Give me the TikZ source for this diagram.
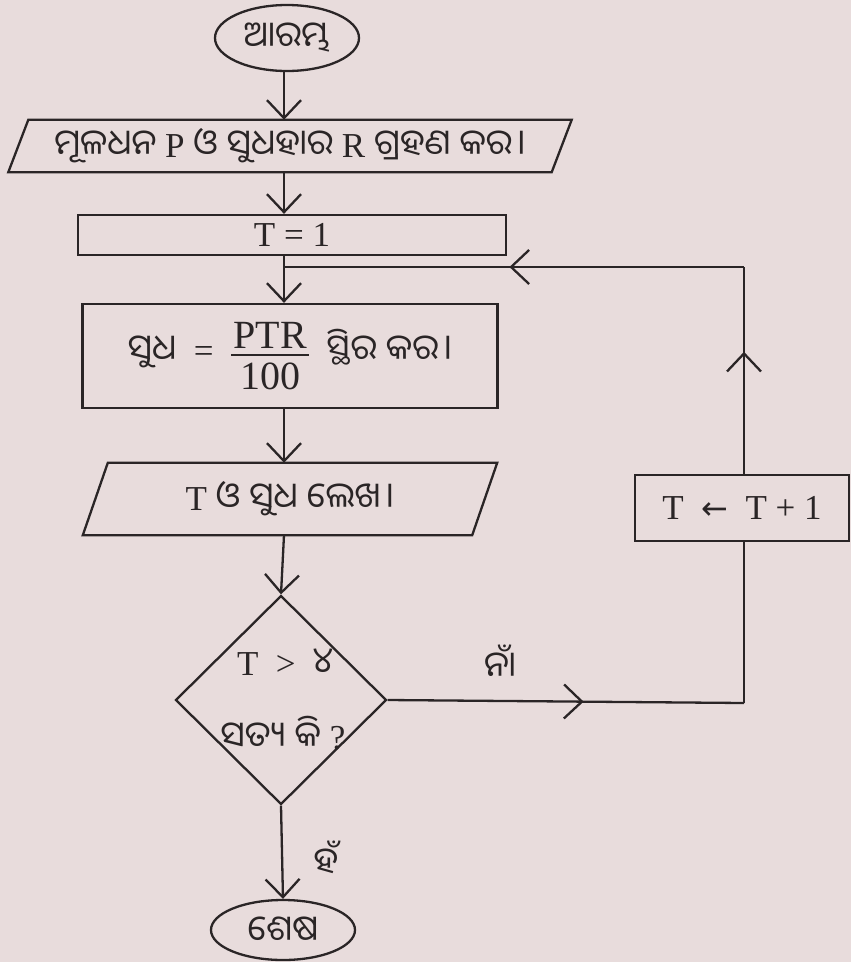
\documentclass[tikz,border=0pt]{standalone}
\usepackage{fontspec}
\setmainfont{Liberation Serif}
\newfontfamily\od[Script=Oriya]{Noto Sans Oriya UI}
\newfontfamily\dv{DejaVu Sans}
\usetikzlibrary{arrows.meta,shapes.geometric,decorations.markings}
\definecolor{bg}{HTML}{E8DCDC}
\definecolor{ink}{HTML}{2A2526}
\newcommand\myfrac[2]{$\vcenter{\fontsize{40}{44}\selectfont\hbox to 78pt{\hfil #1\hfil}\kern5pt\hrule height 2pt\kern7pt\hbox to 78pt{\hfil #2\hfil}}$}
\newcommand\dnd{\kern5pt।}
\tikzset{
  lin/.style={draw=ink, line width=2.3pt},
  tip/.style={-{Straight Barb[length=18pt,width=34pt,line width=2.3pt]}},
  midarr/.style={postaction={decorate}, decoration={markings, mark=at position #1 with {\arrow{Straight Barb[length=18pt,width=34pt,line width=2.3pt]}}}},
  txt/.style={font=\fontsize{35}{40}\selectfont, text=ink, inner sep=0pt},
  ell/.style={txt, ellipse, lin},
  boxx/.style={txt, rectangle, lin},
  plain/.style={txt, rectangle},
  dia/.style={diamond, lin, aspect=1, inner sep=0pt},
}
\begin{document}
\begin{tikzpicture}[x=1pt,y=-1pt]
\fill[bg] (0,0) rectangle (851,962);
\useasboundingbox (0,0) rectangle (851,962);
\coordinate (ax) at (284,0);
% nodes
\node[ell, minimum width=144pt, minimum height=66pt] (start) at (287,38) {\od ଆରମ୍ଭ};
\node[plain, minimum width=563pt, minimum height=52pt] (in) at (290,146)
  {{\od ମୂଳଧନ} P {\od ଓ ସୁଧହାର} R {\od ଗ୍ରହଣ କର\dnd}};
\draw[lin] ([xshift=20pt]in.north west) -- (in.north east) -- ([xshift=-20pt]in.south east) -- (in.south west) -- cycle;
\node[boxx, minimum width=428pt, minimum height=40pt] (t1) at (292,235) {T = 1};
\node[boxx, minimum width=415pt, minimum height=104pt] (comp) at (290,356)
  {{\od ସୁଧ}\ \ =\ \ \myfrac{PTR}{100}\ \ {\od ସ୍ଥିର କର\dnd}};
\node[plain, minimum width=414pt, minimum height=72pt] (out) at (290,499)
  {T {\od ଓ ସୁଧ ଲେଖ\dnd}};
\draw[lin] ([xshift=25pt]out.north west) -- (out.north east) -- ([xshift=-25pt]out.south east) -- (out.south west) -- cycle;
\node[dia, minimum width=211pt, minimum height=209pt] (dec) at (281,700) {};
\node[plain] (cond) at (285,662) {T\enspace>\enspace{\od ୪}};
\node[plain] (ask) at (283,733) {{\od ସତ୍ୟ କି} ?};
\node[boxx, minimum width=214pt, minimum height=66pt] (inc) at (742,508) {T\ \ {\dv\fontsize{32}{36}\selectfont ←}\ \ T + 1};
\node[ell, minimum width=144pt, minimum height=60pt] (stop) at (283,930) {\od ଶେଷ};
\node[plain] (no) at (500,662) {\od ନାଁ};
\node[plain] (yes) at (326,858) {\od ହଁ};
% loop corners
\coordinate (c1) at (744,703);
\coordinate (c2) at (744,267);
% connectors
\draw[lin, tip] (start.south -| ax) -- (in.north -| ax);
\draw[lin, tip] (in.south -| ax) -- (t1.north -| ax);
\draw[lin, tip] (t1.south -| ax) -- (comp.north -| ax);
\draw[lin, tip] (comp.south -| ax) -- (out.north -| ax);
\draw[lin, tip] (out.south -| ax) -- (dec.north);
\draw[lin, tip] (dec.south) -- (stop.north);
\draw[lin, midarr=0.55] (dec.east) -- (c1);
\draw[lin] (c1) -- (c1 |- inc.south);
\draw[lin, midarr=0.59] (c1 |- inc.north) -- (c2);
\draw[lin, midarr=0.51] (c2) -- (c2 -| ax);
\end{tikzpicture}
\end{document}
